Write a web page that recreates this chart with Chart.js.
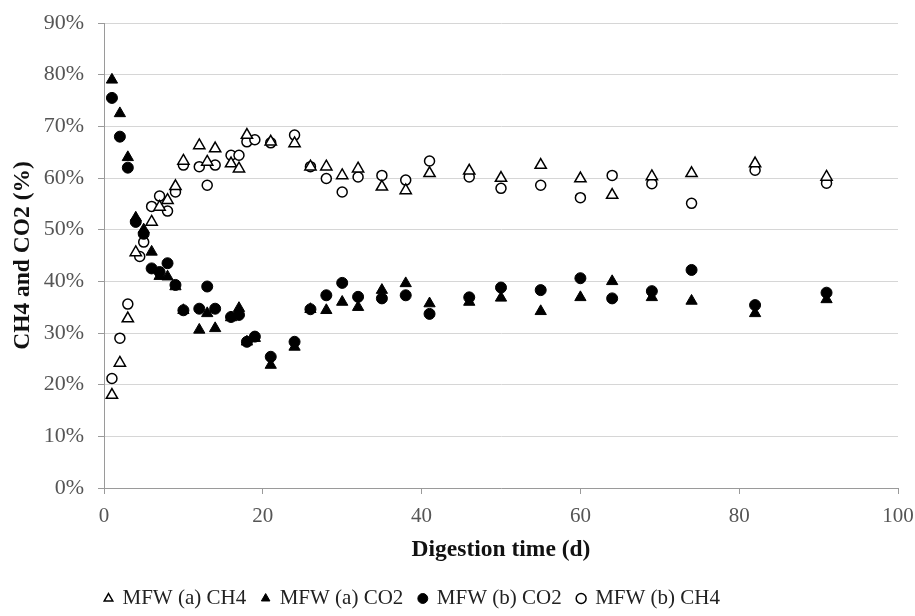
<!DOCTYPE html>
<html>
<head>
<meta charset="utf-8">
<script src="https://cdn.jsdelivr.net/npm/chart.js@4/dist/chart.umd.min.js"></script>
<style>
  html, body { margin: 0; padding: 0; background: #fff; }
  #wrap { width: 915px; height: 616px; }
</style>
</head>
<body>
<div id="wrap"><canvas id="gasChart" width="915" height="616"></canvas></div>
<script>
// MFW (a) CH4 - open triangles
var aCh4Days = [1, 2, 3, 4, 6, 7, 8, 9, 10, 12, 13, 14, 16, 17, 18, 21, 24, 26, 28, 30, 32, 35, 38, 41, 46, 50, 55, 60, 64, 69, 74, 82, 91];
var aCh4 = [18.0, 24.2, 32.8, 45.6, 51.5, 54.4, 55.7, 58.4, 63.3, 66.3, 63.1, 65.7, 62.8, 61.8, 68.3, 67.0, 66.7, 62.2, 62.2, 60.5, 61.8, 58.3, 57.6, 60.9, 61.4, 60.0, 62.5, 59.9, 56.7, 60.3, 60.9, 62.8, 60.2];

// MFW (a) CO2 - filled triangles
var aCo2Days = [1, 2, 3, 4, 5, 6, 7, 8, 9, 10, 12, 13, 14, 16, 17, 18, 19, 21, 24, 26, 28, 30, 32, 35, 38, 41, 46, 50, 55, 60, 64, 69, 74, 82, 91];
var aCo2 = [79.0, 72.5, 64.0, 52.3, 50.0, 45.7, 41.0, 40.9, 39.0, 34.4, 30.6, 33.8, 30.9, 33.0, 34.8, 28.3, 29.0, 23.8, 27.3, 34.6, 34.4, 36.0, 35.0, 38.3, 39.6, 35.7, 36.0, 36.8, 34.2, 36.9, 40.0, 36.9, 36.2, 33.8, 36.5];

// MFW (b) CO2 - filled circles
var bCo2Days = [1, 2, 3, 4, 5, 6, 7, 8, 9, 10, 12, 13, 14, 16, 17, 18, 19, 21, 24, 26, 28, 30, 32, 35, 38, 41, 46, 50, 55, 60, 64, 69, 74, 82, 91];
var bCo2 = [75.5, 68.0, 62.0, 51.5, 49.2, 42.5, 41.8, 43.5, 39.3, 34.4, 34.7, 39.0, 34.7, 33.1, 33.5, 28.3, 29.3, 25.4, 28.3, 34.6, 37.3, 39.7, 37.0, 36.7, 37.3, 33.7, 36.9, 38.8, 38.3, 40.6, 36.7, 38.1, 42.2, 35.4, 37.8];

// MFW (b) CH4 - open circles
var bCh4Days = [1, 2, 3, 4.5, 5, 6, 7, 8, 9, 10, 12, 13, 14, 16, 17, 18, 19, 21, 24, 26, 28, 30, 32, 35, 38, 41, 46, 50, 55, 60, 64, 69, 74, 82, 91];
var bCh4 = [21.2, 29.0, 35.6, 44.8, 47.6, 54.5, 56.5, 53.6, 57.3, 62.5, 62.2, 58.6, 62.5, 64.4, 64.4, 67.0, 67.4, 66.8, 68.3, 62.2, 59.9, 57.3, 60.2, 60.5, 59.6, 63.3, 60.2, 58.0, 58.6, 56.2, 60.5, 58.9, 55.1, 61.5, 59.0];

var yTicks = [0, 10, 20, 30, 40, 50, 60, 70, 80, 90];
var xTicks = [0, 20, 40, 60, 80, 100];

function toPoints(days, vals) {
  return days.map(function(d, i) { return { x: d, y: vals[i] }; });
}

var serif = "'Liberation Serif', 'Times New Roman', serif";

// nudge the legend row a bit left and down, like the original
var legendShift = {
  id: 'legendShift',
  afterLayout: function(chart) {
    chart.legend.left -= 15;
    chart.legend.right -= 15;
    chart.legend.top += 3;
    chart.legend.bottom += 3;
  }
};

window.addEventListener('load', function() {
  var ctx = document.getElementById('gasChart').getContext('2d');
  new Chart(ctx, {
    type: 'scatter',
    data: {
      datasets: [
        {
          label: 'MFW (a) CH4',
          data: toPoints(aCh4Days, aCh4),
          pointStyle: 'triangle',
          pointRadius: 6.5,
          backgroundColor: '#fff',
          borderColor: '#000',
          borderWidth: 1.5
        },
        {
          label: 'MFW (a) CO2',
          data: toPoints(aCo2Days, aCo2),
          pointStyle: 'triangle',
          pointRadius: 6.5,
          backgroundColor: '#000',
          borderColor: '#000',
          borderWidth: 1
        },
        {
          label: 'MFW (b) CO2',
          data: toPoints(bCo2Days, bCo2),
          pointStyle: 'circle',
          pointRadius: 5.5,
          backgroundColor: '#000',
          borderColor: '#000',
          borderWidth: 1
        },
        {
          label: 'MFW (b) CH4',
          data: toPoints(bCh4Days, bCh4),
          pointStyle: 'circle',
          pointRadius: 5,
          backgroundColor: '#fff',
          borderColor: '#000',
          borderWidth: 1.5
        }
      ]
    },
    options: {
      responsive: false,
      animation: false,
      layout: { padding: { top: 23, right: 17, left: 0, bottom: 0 } },
      plugins: {
        tooltip: { enabled: false },
        legend: {
          display: true,
          position: 'bottom',
          fullSize: false,
          align: 'start',
          labels: {
            usePointStyle: true,
            boxWidth: 7,
            boxHeight: 7,
            padding: 16,
            color: '#222',
            font: { family: serif, size: 21 }
          }
        }
      },
      scales: {
        x: {
          type: 'linear',
          min: 0,
          max: 100,
          afterBuildTicks: function(scale) {
            scale.ticks = xTicks.map(function(v) { return { value: v }; });
          },
          afterFit: function(scale) {
            scale.height = 81;
            scale.paddingRight = 0;
            scale.paddingLeft = 0;
          },
          grid: {
            display: true,
            drawOnChartArea: false,
            tickLength: 6,
            tickColor: '#9a9a9a'
          },
          border: { color: '#9a9a9a', width: 1 },
          ticks: {
            color: '#555',
            padding: 10,
            font: { family: serif, size: 21 }
          },
          title: {
            display: true,
            text: 'Digestion time (d)',
            color: '#111',
            padding: { top: 4, bottom: 5 },
            font: { family: serif, size: 23.5, weight: 'bold' }
          }
        },
        y: {
          type: 'linear',
          min: 0,
          max: 90,
          afterBuildTicks: function(scale) {
            scale.ticks = yTicks.map(function(v) { return { value: v }; });
          },
          afterFit: function(scale) {
            scale.width = 104;
            scale.paddingTop = 0;
            scale.paddingBottom = 0;
          },
          grid: {
            color: '#d6d6d6',
            lineWidth: 1,
            tickLength: 6,
            tickColor: '#9a9a9a'
          },
          border: { color: '#9a9a9a', width: 1 },
          ticks: {
            color: '#555',
            padding: 14,
            font: { family: serif, size: 22 },
            callback: function(v) { return v + '%'; }
          },
          title: {
            display: true,
            text: 'CH4 and CO2 (%)',
            color: '#111',
            padding: { top: 9, bottom: 0 },
            font: { family: serif, size: 23.5, weight: 'bold' }
          }
        }
      }
    },
    plugins: [legendShift]
  });
});
</script>
</body>
</html>
